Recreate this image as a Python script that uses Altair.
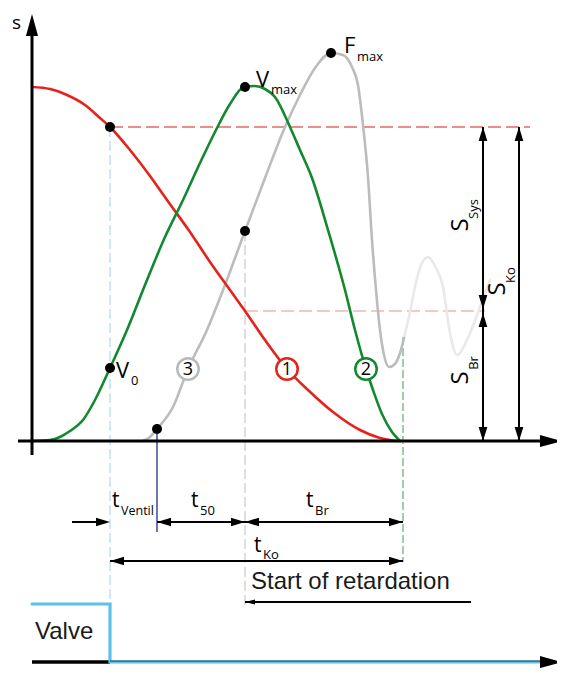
import altair as alt
import pandas as pd

# ---------------- data (page-pixel coordinates) ----------------
red_x = [32, 50, 67, 85, 100, 110, 130, 150, 167, 190, 210, 230, 245, 265, 287, 308, 333, 360, 380, 397]
red_y = [87, 89, 95, 105, 118, 127, 150, 176, 200, 232, 262, 290, 311, 340, 369, 390, 412, 430, 438, 441]

green_x = [32, 50, 60, 70, 83, 95, 110, 127, 145, 165, 183, 200, 215, 230, 244, 255, 265, 275, 290, 300, 312, 328, 345, 355, 366, 373, 382, 392, 400]
green_y = [441, 440, 437, 431, 420, 400, 368, 330, 285, 237, 200, 163, 132, 104, 87, 86, 89, 97, 127, 150, 178, 230, 290, 330, 369, 390, 414, 432, 441]

grey_x = [143, 150, 157, 173, 188, 207, 225, 245, 265, 285, 300, 315, 331, 343, 352, 358, 363, 368, 372, 376, 380, 384, 389, 395, 400, 404]
grey_y = [441, 437, 429, 407, 369, 330, 285, 231, 178, 127, 95, 68, 53, 55, 67, 85, 125, 177, 240, 290, 330, 355, 367, 364, 353, 338]

ghost_x = [404, 410, 415, 421, 428, 435, 443, 450, 457, 467, 480, 490]
ghost_y = [338, 312, 287, 265, 257, 266, 287, 333, 355, 340, 307, 280]

dot_x = [110, 245, 331, 245, 110, 157]
dot_y = [127, 87, 53, 231, 368, 429]

ring_x = [287, 366, 188]
ring_y = [369, 369, 369]
ring_label = ["1", "2", "3"]
ring_color = ["#e5231b", "#13892f", "#b9b9b9"]

# straight segments: (x1, y1, x2, y2)
axis_seg = [(32, 30, 32, 455), (18, 441, 545, 441)]
dim_seg = [(72, 522, 106, 522), (157, 522, 245, 522), (245, 522, 403, 522),
           (110, 561, 403, 561), (483, 127, 483, 441), (519, 127, 519, 441)]
retard_seg = [(245, 602, 471, 602)]
red_dash_seg = [(110, 127, 530, 127)]
red_dash2_seg = [(245, 311, 485, 311)]
blue_dash_seg = [(110, 127, 110, 604)]
grey_dash_seg = [(245, 231, 245, 608)]
green_dash_seg = [(403, 337, 403, 562)]
navy_seg = [(157, 429, 157, 532)]
valve_black_seg = [(32, 662, 110, 662)]
valve_blue_x = [32, 110, 110, 545]
valve_blue_y = [604, 604, 662, 662]
valve_dark_seg = [(110, 661, 545, 661)]

# arrowheads: tip x, tip y, direction (deg, clockwise from right)
big_arrow = [(32, 14, 270), (562, 441, 0), (562, 662, 0)]
small_arrow = [(110, 522, 0), (157, 522, 180), (245, 522, 0), (245, 522, 180), (403, 522, 0),
               (110, 561, 180), (403, 561, 0), (483, 127, 270), (483, 309, 90),
               (483, 313, 270), (483, 441, 90), (519, 127, 270), (519, 441, 90)]
thin_arrow = [(245, 602, 180)]

# labels: text, x, y (baseline), size
lab_text = ["V", "max", "F", "max", "V", "0", "t", "Ventil", "t", "50", "t", "Br", "t", "Ko"]
lab_x = [256, 271, 344, 357, 116, 131, 112, 121, 191, 200, 306, 315, 254, 263]
lab_y = [87, 94, 53, 61, 378, 385, 507, 515, 507, 515, 507, 515, 552, 559]
lab_size = [22, 13, 22, 13, 22, 13, 21, 12.5, 21, 13, 21, 13, 21, 13]

axis_label = ["s"]
axis_label_x = [12]
axis_label_y = [23]

rot_text = ["S", "Sys", "S", "Br", "S", "Ko"]
rot_x = [461, 474, 461, 474, 498, 511]
rot_y = [225, 209, 378, 363, 289, 275]
rot_size = [24, 13, 24, 13, 24, 13]

plain_text = ["Start of retardation", "Valve"]
plain_x = [251, 35]
plain_y = [589, 639]

# ---------------- chart ----------------
W, H = 549, 660
X = alt.X("x:Q", scale=alt.Scale(domain=[8, 8 + W], nice=False, zero=False), axis=None)
Y = alt.Y("y:Q", scale=alt.Scale(domain=[8, 8 + H], nice=False, zero=False, reverse=True), axis=None)


def curve(xs, ys, color, width, interp="monotone"):
    df = pd.DataFrame({"x": xs, "y": ys, "i": list(range(len(xs)))})
    return alt.Chart(df).mark_line(color=color, strokeWidth=width, interpolate=interp,
                                   strokeCap="round").encode(x=X, y=Y, order="i:Q")


def segs(lst, color, width, dash=None):
    df = pd.DataFrame(lst, columns=["x", "y", "x2", "y2"])
    kw = dict(color=color, strokeWidth=width)
    if dash:
        kw["strokeDash"] = dash
    return alt.Chart(df).mark_rule(**kw).encode(x=X, y=Y, x2="x2:Q", y2="y2:Q")


def arrows(lst, path, size):
    df = pd.DataFrame(lst, columns=["x", "y", "a"])
    return alt.Chart(df).mark_point(shape=path, filled=True, color="black", size=size,
                                    opacity=1, strokeWidth=0).encode(
        x=X, y=Y, angle=alt.Angle("a:Q", scale=None))


big_path = "M0,0 L-2,-0.55 L-2,0.55 Z"
small_path = "M0,0 L-2,-0.62 L-2,0.62 Z"
thin_path = "M0,0 L-2,-0.5 L-2,0.5 Z"

layers = []
layers.append(segs(red_dash_seg, "#e56a66", 1.5, [13, 5]))
layers.append(segs(red_dash2_seg, "#e8928e", 1.2, [13, 5]))
layers.append(segs(blue_dash_seg, "#a9dcf1", 1.2, [10, 4]))
layers.append(segs(grey_dash_seg, "#c9c9c9", 1.2, [10, 4]))
layers.append(segs(green_dash_seg, "#3f9d52", 1.0, [8, 3]))
layers.append(segs(navy_seg, "#3b4b95", 1.5))
layers.append(curve(ghost_x, ghost_y, "#e9e9e9", 2.6))
layers.append(curve(grey_x, grey_y, "#bcbcbc", 2.6))
layers.append(curve(red_x, red_y, "#e5231b", 2.6))
layers.append(curve(green_x, green_y, "#13892f", 2.6))
layers.append(segs(axis_seg, "black", 3))
layers.append(segs(dim_seg, "black", 2))
layers.append(segs(retard_seg, "black", 2))
layers.append(segs(valve_black_seg, "black", 3.5))
layers.append(curve(valve_blue_x, valve_blue_y, "#5cc0ea", 3.2, interp="linear"))
layers.append(segs(valve_dark_seg, "#1b3a4a", 1))
layers.append(arrows(big_arrow, big_path, 484))
layers.append(arrows(small_arrow, small_path, 196))
layers.append(arrows(thin_arrow, thin_path, 100))

dots = pd.DataFrame({"x": dot_x, "y": dot_y})
layers.append(alt.Chart(dots).mark_circle(color="black", size=100, opacity=1).encode(x=X, y=Y))

rings = pd.DataFrame({"x": ring_x, "y": ring_y, "t": ring_label, "c": ring_color})
layers.append(alt.Chart(rings).mark_point(shape="circle", filled=True, fill="white", strokeWidth=2.5,
                                          size=460, opacity=1).encode(
    x=X, y=Y, stroke=alt.Stroke("c:N", scale=None)))
layers.append(alt.Chart(rings).mark_text(font="Open Sans", fontSize=18, color="black", align="center",
                                         baseline="middle", dy=1).encode(x=X, y=Y, text="t:N"))

labs = pd.DataFrame({"x": lab_x, "y": lab_y, "t": lab_text, "s": lab_size})
layers.append(alt.Chart(labs).mark_text(font="Open Sans", color="black", align="left",
                                        baseline="alphabetic").encode(
    x=X, y=Y, text="t:N", size=alt.Size("s:Q", scale=None)))

axl = pd.DataFrame({"x": axis_label_x, "y": axis_label_y, "t": axis_label})
layers.append(alt.Chart(axl).mark_text(font="Open Sans", fontSize=19, color="black", align="left",
                                       baseline="middle").encode(x=X, y=Y, text="t:N"))

rots = pd.DataFrame({"x": rot_x, "y": rot_y, "t": rot_text, "s": rot_size})
layers.append(alt.Chart(rots).mark_text(font="Open Sans", color="black", align="center",
                                        baseline="middle", angle=270).encode(
    x=X, y=Y, text="t:N", size=alt.Size("s:Q", scale=None)))

plain = pd.DataFrame({"x": plain_x, "y": plain_y, "t": plain_text})
layers.append(alt.Chart(plain).mark_text(font="Liberation Sans", fontSize=24, color="#1a1a1a",
                                         align="left", baseline="alphabetic").encode(
    x=X, y=Y, text="t:N"))

chart = alt.layer(*layers).properties(
    width=W, height=H, padding=0, autosize=alt.AutoSizeParams(type="none")
).configure_view(strokeWidth=0)

chart.save("out.html", embed_options={"renderer": "svg", "actions": False})
